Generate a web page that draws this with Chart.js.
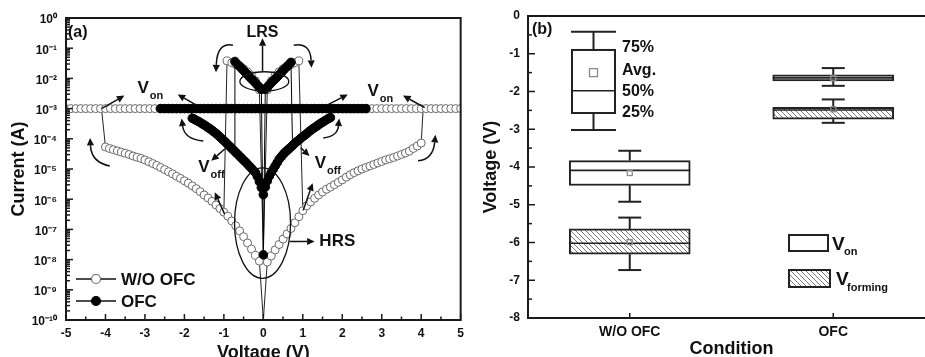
<!DOCTYPE html>
<html>
<head>
<meta charset="utf-8">
<script src="https://cdn.jsdelivr.net/npm/chart.js@4.4.0/dist/chart.umd.min.js"></script>
<style>
  html, body { margin: 0; padding: 0; background: #fff; overflow: hidden; }
  #wrap { position: relative; width: 925px; height: 357px; overflow: hidden; background: #fff; }
  #ivChart { position: absolute; left: 0; top: 0; }
  #boxChart { position: absolute; left: 470px; top: 0; }
</style>
</head>
<body>
<div id="wrap">
  <canvas id="ivChart" width="470" height="364"></canvas>
  <canvas id="boxChart" width="475" height="364"></canvas>
</div>
<script>
// ---------- (a) I-V sweeps: voltages in V, currents as log10(I / A) ----------
const complianceLogI = -3;

// without OFC: high-resistance branches
const woNegHrsV = [-4.0, -3.9, -3.8, -3.7, -3.6, -3.5, -3.4, -3.3, -3.2, -3.1, -3.0, -2.9, -2.8, -2.7, -2.6, -2.5, -2.4, -2.3, -2.2, -2.1, -2.0, -1.9, -1.8, -1.7, -1.6, -1.5, -1.4, -1.3, -1.2, -1.1, -1.0, -0.9, -0.8, -0.7, -0.6, -0.5, -0.4, -0.3, -0.2, -0.1];
const woNegHrsLogI = [-4.27, -4.32, -4.36, -4.40, -4.44, -4.48, -4.52, -4.57, -4.61, -4.65, -4.70, -4.76, -4.82, -4.88, -4.95, -5.02, -5.09, -5.16, -5.24, -5.31, -5.39, -5.47, -5.56, -5.65, -5.75, -5.86, -5.96, -6.07, -6.19, -6.31, -6.43, -6.56, -6.72, -6.88, -7.05, -7.24, -7.45, -7.65, -7.86, -8.05];
const woPosHrsV = [0.1, 0.2, 0.3, 0.4, 0.5, 0.6, 0.7, 0.8, 0.9, 1.0, 1.1, 1.2, 1.3, 1.4, 1.5, 1.6, 1.7, 1.8, 1.9, 2.0, 2.1, 2.2, 2.3, 2.4, 2.5, 2.6, 2.7, 2.8, 2.9, 3.0, 3.1, 3.2, 3.3, 3.4, 3.5, 3.6, 3.7, 3.8, 3.9, 4.0];
const woPosHrsLogI = [-8.08, -7.88, -7.68, -7.50, -7.32, -7.15, -6.97, -6.78, -6.58, -6.38, -6.22, -6.09, -5.97, -5.86, -5.76, -5.67, -5.60, -5.52, -5.44, -5.36, -5.27, -5.19, -5.12, -5.06, -5.00, -4.95, -4.90, -4.85, -4.80, -4.75, -4.70, -4.66, -4.62, -4.57, -4.52, -4.47, -4.41, -4.32, -4.24, -4.14];
// without OFC: low-resistance branches
const woNegLrsV = [-0.92, -0.8, -0.7, -0.6, -0.5, -0.4, -0.3, -0.2, -0.1];
const woNegLrsLogI = [-1.42, -1.48, -1.54, -1.60, -1.68, -1.78, -1.90, -2.08, -2.38];
const woPosLrsV = [0.1, 0.2, 0.3, 0.4, 0.5, 0.6, 0.7, 0.8, 0.9];
const woPosLrsLogI = [-2.38, -2.08, -1.90, -1.78, -1.68, -1.60, -1.54, -1.48, -1.42];
// without OFC: compliance-limited sweep
const woCompV = [-5, -4.875, -4.75, -4.625, -4.5, -4.375, -4.25, -4.125, -4, -3.875, -3.75, -3.625, -3.5, -3.375, -3.25, -3.125, -3, -2.875, -2.75, -2.625, -2.5, -2.375, -2.25, -2.125, -2, -1.875, -1.75, -1.625, -1.5, -1.375, -1.25, -1.125, -1, -0.875, -0.75, -0.625, -0.5, -0.375, -0.25, -0.125, 0, 0.125, 0.25, 0.375, 0.5, 0.625, 0.75, 0.875, 1, 1.125, 1.25, 1.375, 1.5, 1.625, 1.75, 1.875, 2, 2.125, 2.25, 2.375, 2.5, 2.625, 2.75, 2.875, 3, 3.125, 3.25, 3.375, 3.5, 3.625, 3.75, 3.875, 4, 4.125, 4.25, 4.375, 4.5, 4.625, 4.75, 4.875, 5];

// with OFC: high-resistance branches
const ofcNegHrsV = [-1.8, -1.75, -1.7, -1.65, -1.6, -1.55, -1.5, -1.45, -1.4, -1.35, -1.3, -1.25, -1.2, -1.15, -1.1, -1.05, -1.0, -0.95, -0.9, -0.85, -0.8, -0.75, -0.7, -0.65, -0.6, -0.55, -0.5, -0.45, -0.4, -0.35, -0.3, -0.25, -0.2, -0.15, -0.1, -0.05, 0];
const ofcNegHrsLogI = [-3.32, -3.35, -3.39, -3.42, -3.46, -3.50, -3.54, -3.58, -3.63, -3.67, -3.72, -3.77, -3.82, -3.88, -3.94, -4.00, -4.06, -4.12, -4.19, -4.25, -4.32, -4.38, -4.45, -4.51, -4.58, -4.64, -4.71, -4.77, -4.84, -4.91, -4.98, -5.05, -5.12, -5.25, -5.42, -5.62, -5.85];
const ofcPosHrsV = [0.05, 0.1, 0.15, 0.2, 0.25, 0.3, 0.35, 0.4, 0.45, 0.5, 0.55, 0.6, 0.65, 0.7, 0.75, 0.8, 0.85, 0.9, 0.95, 1.0, 1.05, 1.1, 1.15, 1.2, 1.25, 1.3, 1.35, 1.4, 1.45, 1.5, 1.55, 1.6, 1.65, 1.7];
const ofcPosHrsLogI = [-5.60, -5.40, -5.24, -5.12, -5.01, -4.90, -4.79, -4.68, -4.60, -4.52, -4.45, -4.39, -4.33, -4.27, -4.21, -4.15, -4.09, -4.04, -3.98, -3.93, -3.88, -3.83, -3.77, -3.72, -3.67, -3.63, -3.58, -3.54, -3.49, -3.45, -3.41, -3.37, -3.33, -3.30];
// with OFC: low-resistance branches (through the zero-bias point)
const ofcLrsV = [-0.72, -0.65, -0.6, -0.55, -0.5, -0.45, -0.4, -0.35, -0.3, -0.25, -0.2, -0.15, -0.1, -0.05, 0, 0.05, 0.1, 0.15, 0.2, 0.25, 0.3, 0.35, 0.4, 0.45, 0.5, 0.55, 0.6, 0.65, 0.7];
const ofcLrsLogI = [-1.44, -1.54, -1.60, -1.67, -1.74, -1.81, -1.88, -1.95, -2.02, -2.08, -2.15, -2.22, -2.29, -2.36, -7.84, -2.36, -2.29, -2.22, -2.15, -2.08, -2.02, -1.95, -1.88, -1.81, -1.74, -1.67, -1.61, -1.54, -1.47];
// with OFC: compliance-limited sweep
const ofcCompV = [-2.6, -2.5, -2.4, -2.3, -2.2, -2.1, -2.0, -1.9, -1.8, -1.7, -1.6, -1.5, -1.4, -1.3, -1.2, -1.1, -1.0, -0.9, -0.8, -0.7, -0.6, -0.5, -0.4, -0.3, -0.2, -0.1, 0, 0.1, 0.2, 0.3, 0.4, 0.5, 0.6, 0.7, 0.8, 0.9, 1.0, 1.1, 1.2, 1.3, 1.4, 1.5, 1.6, 1.7, 1.8, 1.9, 2.0, 2.1, 2.2, 2.3, 2.4, 2.5, 2.6];

// transition points (set jumps, reset drops, zero crossings) drawn as bare line joints
const woSetJoinV = [-4.1, 4.05];
const woResetEndV = [-1.0, 1.0];
const woResetEndLogI = [-6.43, -6.38];
const woHrsZeroLogI = -10;
const woLrsZeroLogI = -7.8;
const ofcSetJoinV = [-1.85, 1.75];
const ofcResetEndV = [-0.74, 0.74];
const ofcResetEndLogI = [-4.40, -4.27];

const currentTicks = [1e-10, 1e-9, 1e-8, 1e-7, 1e-6, 1e-5, 1e-4, 1e-3, 1e-2, 1e-1, 1];
const voltageRange = [-5, 5];

// ---------- (b) switching-voltage statistics ----------
const conditions = ['W/O OFC', 'OFC'];
const vonLow = [-4.92, -1.85];
const vonQ1 = [-4.49, -1.72];
const vonMedian = [-4.09, -1.64];
const vonQ3 = [-3.83, -1.56];
const vonHigh = [-3.57, -1.38];
const vonMean = [-4.16, -1.65];
const vformLow = [-6.73, -2.83];
const vformQ1 = [-6.31, -2.73];
const vformMedian = [-6.02, -2.49];
const vformQ3 = [-5.64, -2.42];
const vformHigh = [-5.34, -2.21];
const vformMean = [-5.99, -2.47];
// explanatory key box: low whisker, 25%, 50%, 75%, high whisker, and the average
const keyBox = [-3.02, -2.57, -1.98, -0.90, -0.42];
const keyMean = -1.5;
const voltageAxis = [-8, 0];

// ---------- shared styling ----------
const FONT = '"Liberation Sans", Arial, Helvetica, sans-serif';
const INK = '#111';
Chart.defaults.font.family = FONT;
Chart.defaults.font.weight = 'bold';
Chart.defaults.color = INK;

const SUP = { '-': '\u207B', '0': '\u2070', '1': '\u00B9', '2': '\u00B2', '3': '\u00B3', '4': '\u2074', '5': '\u2075', '6': '\u2076', '7': '\u2077', '8': '\u2078', '9': '\u2079' };
const decadeLabel = v => '10' + String(Math.round(Math.log10(v))).split('').map(c => SUP[c]).join('');

const pt = (v, e) => ({ x: v, y: Math.pow(10, e) });
// join sweep pieces; pieces flagged false are drawn as line joints only
function sweep(pieces) {
  const data = [], bare = [];
  pieces.forEach(([vs, es, marked]) => vs.forEach((v, k) => {
    if (!marked) bare.push(data.length);
    data.push(pt(v, es[k]));
  }));
  return { data, bare };
}
const constLog = (vs, e) => vs.map(() => e);

const woHrs = sweep([
  [[woSetJoinV[0]], [complianceLogI], false],
  [woNegHrsV, woNegHrsLogI, true],
  [[0], [woHrsZeroLogI], false],
  [woPosHrsV, woPosHrsLogI, true],
  [[woSetJoinV[1]], [complianceLogI], false]
]);
const woLrs = sweep([
  [[woResetEndV[0]], [woResetEndLogI[0]], false],
  [woNegLrsV, woNegLrsLogI, true],
  [[0], [woLrsZeroLogI], false],
  [woPosLrsV, woPosLrsLogI, true],
  [[woResetEndV[1]], [woResetEndLogI[1]], false]
]);
const woComp = sweep([[woCompV, constLog(woCompV, complianceLogI), true]]);
const ofcHrs = sweep([
  [[ofcSetJoinV[0]], [complianceLogI], false],
  [ofcNegHrsV, ofcNegHrsLogI, true],
  [ofcPosHrsV, ofcPosHrsLogI, true],
  [[ofcSetJoinV[1]], [complianceLogI], false]
]);
const ofcLrs = sweep([
  [[ofcResetEndV[0]], [ofcResetEndLogI[0]], false],
  [ofcLrsV, ofcLrsLogI, true],
  [[ofcResetEndV[1]], [ofcResetEndLogI[1]], false]
]);
const ofcComp = sweep([[ofcCompV, constLog(ofcCompV, complianceLogI), true]]);

const markerRadius = r => ctx => (ctx.dataset.bare || []).includes(ctx.dataIndex) ? 0 : r;
const woStyle = { showLine: true, borderColor: '#222', borderWidth: 1, pointRadius: markerRadius(4), pointBackgroundColor: '#fff', pointBorderColor: '#6a6a6a', pointBorderWidth: 1, order: 2 };
const ofcStyle = { showLine: true, borderColor: '#000', borderWidth: 1, pointRadius: markerRadius(4.3), pointBackgroundColor: '#000', pointBorderColor: '#000', pointBorderWidth: 1, order: 1 };

// annotation geometry in (voltage, log10 current) units
const ivEllipses = [
  { v: 0.025, e: -2.10, rv: 0.62, re: 0.32 },
  { v: -0.02, e: -6.79, rv: 0.71, re: 1.83 }
];
const ivArrows = [
  [[-0.02, -1.77], [-0.02, -0.67]],
  [[-0.77, -0.90], [-1.17, -0.80], [-1.20, -1.80]],
  [[0.77, -0.90], [1.19, -0.80], [1.22, -1.65]],
  [[-4.10, -3.00], [-3.52, -2.57]],
  [[-3.89, -4.90], [-4.36, -4.78], [-4.39, -3.97]],
  [[-1.72, -2.87], [-2.17, -2.53]],
  [[-1.52, -4.07], [-2.00, -4.02], [-2.07, -3.33]],
  [[-0.97, -4.33], [-1.32, -4.73]],
  [[-0.98, -6.50], [-1.23, -5.77]],
  [[0.95, -4.30], [1.17, -4.57]],
  [[1.01, -6.37], [1.25, -5.47]],
  [[1.64, -2.87], [2.14, -2.53]],
  [[1.52, -3.97], [1.88, -3.92], [1.92, -3.33]],
  [[4.09, -2.97], [3.54, -2.57]],
  [[3.92, -4.73], [4.30, -4.68], [4.36, -3.87]],
  [[0.67, -7.40], [1.30, -7.40]]
];
const ivSubLabels = [
  { main: 'V', sub: 'on', v: -3.19, e: -2.47 },
  { main: 'V', sub: 'on', v: 2.64, e: -2.57 },
  { main: 'V', sub: 'off', v: -1.65, e: -5.10 },
  { main: 'V', sub: 'off', v: 1.30, e: -4.97 }
];

function drawArrow(ctx, pts) {
  const s = pts[0], c = pts.length === 3 ? pts[1] : null, e = pts[pts.length - 1];
  const from = c || s;
  const ang = Math.atan2(e[1] - from[1], e[0] - from[0]);
  const L = 7.5, W = 3.6;
  const bx = e[0] - L * Math.cos(ang), by = e[1] - L * Math.sin(ang);
  ctx.beginPath();
  ctx.moveTo(s[0], s[1]);
  if (c) ctx.quadraticCurveTo(c[0], c[1], bx, by); else ctx.lineTo(bx, by);
  ctx.stroke();
  ctx.beginPath();
  ctx.moveTo(e[0], e[1]);
  ctx.lineTo(bx + W * Math.sin(ang), by - W * Math.cos(ang));
  ctx.lineTo(bx - W * Math.sin(ang), by + W * Math.cos(ang));
  ctx.closePath();
  ctx.fill();
}
function seg(ctx, x0, y0, x1, y1) { ctx.beginPath(); ctx.moveTo(x0, y0); ctx.lineTo(x1, y1); ctx.stroke(); }

const ivDecor = {
  id: 'ivDecor',
  afterDatasetsDraw(chart) {
    const { ctx, chartArea: a, scales: { x, y } } = chart;
    const X = v => x.getPixelForValue(v);
    const Y = e => y.getPixelForValue(Math.pow(10, e));
    ctx.save();
    ctx.strokeStyle = INK; ctx.fillStyle = INK;

    // state ellipses
    ctx.lineWidth = 1.3;
    ivEllipses.forEach(el => {
      ctx.beginPath();
      ctx.ellipse(X(el.v), Y(el.e), Math.abs(X(el.v + el.rv) - X(el.v)), Math.abs(Y(el.e - el.re) - Y(el.e)), 0, 0, Math.PI * 2);
      ctx.stroke();
    });
    // sweep-direction arrows
    ctx.lineWidth = 1.5;
    ivArrows.forEach(p => drawArrow(ctx, p.map(([v, e]) => [X(v), Y(e)])));

    // state labels
    ctx.textBaseline = 'middle';
    ctx.font = `bold 16px ${FONT}`; ctx.textAlign = 'center';
    ctx.fillText('LRS', X(-0.02), Y(-0.47));
    ctx.font = `bold 17px ${FONT}`; ctx.textAlign = 'left';
    ctx.fillText('HRS', X(1.42), Y(-7.40));
    ctx.textBaseline = 'alphabetic';
    ivSubLabels.forEach(l => {
      const lx = X(l.v), ly = Y(l.e);
      ctx.font = `bold 17px ${FONT}`;
      ctx.fillText(l.main, lx, ly);
      const w = ctx.measureText(l.main).width;
      ctx.font = `bold 11px ${FONT}`;
      ctx.fillText(l.sub, lx + w + 1, ly + 6);
    });
    ctx.font = `bold 16px ${FONT}`; ctx.textBaseline = 'middle';
    ctx.fillText('(a)', a.left + 2, a.top + 15);

    // frame and inward ticks
    ctx.lineWidth = 2; ctx.strokeStyle = '#1a1a1a';
    ctx.strokeRect(a.left, a.top, a.right - a.left, a.bottom - a.top);
    ctx.lineWidth = 1.5;
    currentTicks.forEach((t, k) => {
      const yy = y.getPixelForValue(t);
      seg(ctx, a.left, yy, a.left + 7, yy);
      if (k < currentTicks.length - 1) {
        for (let m = 2; m <= 9; m++) {
          const ym = y.getPixelForValue(t * m);
          seg(ctx, a.left, ym, a.left + 4, ym);
        }
      }
    });
    for (let v = voltageRange[0]; v <= voltageRange[1]; v += 0.5) {
      const xx = x.getPixelForValue(v);
      seg(ctx, xx, a.bottom, xx, a.bottom - (Number.isInteger(v) ? 6 : 3.5));
    }

    // legend
    const rows = [
      { label: 'W/O OFC', fill: '#fff', edge: '#6a6a6a', y: a.bottom - 41 },
      { label: 'OFC', fill: '#000', edge: '#000', y: a.bottom - 19 }
    ];
    rows.forEach(r => {
      ctx.strokeStyle = INK; ctx.lineWidth = 1.5;
      seg(ctx, a.left + 10, r.y, a.left + 50, r.y);
      ctx.beginPath(); ctx.arc(a.left + 30, r.y, 4.5, 0, Math.PI * 2);
      ctx.fillStyle = r.fill; ctx.fill();
      ctx.strokeStyle = r.edge; ctx.lineWidth = 1.2; ctx.stroke();
      ctx.fillStyle = INK; ctx.font = `bold 17px ${FONT}`; ctx.textAlign = 'left'; ctx.textBaseline = 'middle';
      ctx.fillText(r.label, a.left + 55, r.y + 1);
    });
    ctx.restore();
  }
};

new Chart(document.getElementById('ivChart'), {
  type: 'scatter',
  data: {
    datasets: [
      Object.assign({ label: 'W/O OFC compliance', data: woComp.data, bare: woComp.bare }, woStyle),
      Object.assign({ label: 'W/O OFC HRS', data: woHrs.data, bare: woHrs.bare }, woStyle),
      Object.assign({ label: 'W/O OFC LRS', data: woLrs.data, bare: woLrs.bare }, woStyle),
      Object.assign({ label: 'OFC compliance', data: ofcComp.data, bare: ofcComp.bare }, ofcStyle),
      Object.assign({ label: 'OFC HRS', data: ofcHrs.data, bare: ofcHrs.bare }, ofcStyle),
      Object.assign({ label: 'OFC LRS', data: ofcLrs.data, bare: ofcLrs.bare }, ofcStyle)
    ]
  },
  options: {
    responsive: false, animation: false, events: [],
    layout: { padding: { top: 18, right: 3, left: 0, bottom: 0 } },
    plugins: { legend: { display: false }, tooltip: { enabled: false } },
    scales: {
      x: {
        type: 'linear', min: voltageRange[0], max: voltageRange[1],
        grid: { display: false, drawTicks: false }, border: { display: false },
        ticks: { stepSize: 1, padding: 6, font: { size: 12, weight: 'bold' } },
        title: { display: true, text: 'Voltage (V)', font: { size: 18, weight: 'bold' }, padding: { top: 0, bottom: 0 } },
        afterFit: s => { s.height = 44; }
      },
      y: {
        type: 'logarithmic', min: currentTicks[0], max: currentTicks[currentTicks.length - 1],
        grid: { display: false, drawTicks: false }, border: { display: false },
        afterBuildTicks: s => { s.ticks = currentTicks.map(v => ({ value: v })); },
        ticks: { callback: v => decadeLabel(v), padding: 9, autoSkip: false, labelOffset: 2, font: { size: 12, weight: 'bold' } },
        title: { display: true, text: 'Current (A)', font: { size: 18, weight: 'bold' }, padding: { top: 8, bottom: 0 } },
        afterFit: s => { s.width = 66; }
      }
    }
  },
  plugins: [ivDecor]
});

// ---------- (b) box chart ----------
function hatchPattern() {
  const s = 5, c = document.createElement('canvas');
  c.width = s; c.height = s;
  const p = c.getContext('2d');
  p.fillStyle = '#fff'; p.fillRect(0, 0, s, s);
  p.strokeStyle = '#7a7a7a'; p.lineWidth = 1;
  p.beginPath();
  p.moveTo(0, 0); p.lineTo(s, s);
  p.moveTo(s - 1, -1); p.lineTo(s + 1, 1);
  p.moveTo(-1, s - 1); p.lineTo(1, s + 1);
  p.stroke();
  return p.createPattern(c, 'repeat');
}
const hatch = hatchPattern();
const BOX_EDGE = '#222';

function drawBoxExtras(ctx, cx, yLow, yHigh, yQ1, yQ3, yMed, yMean, halfBox, halfCap, meanSize) {
  ctx.strokeStyle = BOX_EDGE; ctx.lineWidth = 2;
  seg(ctx, cx, yQ3, cx, yHigh);
  seg(ctx, cx, yQ1, cx, yLow);
  seg(ctx, cx - halfCap, yHigh, cx + halfCap, yHigh);
  seg(ctx, cx - halfCap, yLow, cx + halfCap, yLow);
  ctx.lineWidth = 1.6;
  seg(ctx, cx - halfBox, yMed, cx + halfBox, yMed);
  ctx.strokeStyle = '#8a8a8a'; ctx.lineWidth = 1.3;
  ctx.strokeRect(cx - meanSize / 2, yMean - meanSize / 2, meanSize, meanSize);
}

const boxDecor = {
  id: 'boxDecor',
  afterDatasetsDraw(chart) {
    const { ctx, chartArea: a, scales: { x, y } } = chart;
    const Y = v => y.getPixelForValue(v);
    ctx.save();
    const halfBox = 60.5;
    conditions.forEach((c, i) => {
      const cx = x.getPixelForValue(i);
      drawBoxExtras(ctx, cx, Y(vonLow[i]), Y(vonHigh[i]), Y(vonQ1[i]), Y(vonQ3[i]), Y(vonMedian[i]), Y(vonMean[i]), halfBox, 11.5, 5);
      drawBoxExtras(ctx, cx, Y(vformLow[i]), Y(vformHigh[i]), Y(vformQ1[i]), Y(vformQ3[i]), Y(vformMedian[i]), Y(vformMean[i]), halfBox, 11.5, 5);
    });

    // key box explaining the statistics
    const kx = a.left + 65.5, kh = 22.5;
    ctx.fillStyle = '#fff'; ctx.strokeStyle = BOX_EDGE; ctx.lineWidth = 2;
    ctx.fillRect(kx - kh, Y(keyBox[3]), kh * 2, Y(keyBox[1]) - Y(keyBox[3]));
    ctx.strokeRect(kx - kh + 1, Y(keyBox[3]), kh * 2 - 2, Y(keyBox[1]) - Y(keyBox[3]));
    drawBoxExtras(ctx, kx, Y(keyBox[0]), Y(keyBox[4]), Y(keyBox[1]), Y(keyBox[3]), Y(keyBox[2]), Y(keyMean), kh, kh, 8);
    ctx.fillStyle = INK; ctx.font = `bold 16px ${FONT}`; ctx.textAlign = 'left'; ctx.textBaseline = 'middle';
    const kl = kx + 28.5;
    ctx.fillText('75%', kl, Y(keyBox[3]) - 2);
    ctx.fillText('Avg.', kl, Y(keyMean) - 2);
    ctx.fillText('50%', kl, Y(keyBox[2]) + 1);
    ctx.fillText('25%', kl, Y(keyBox[1]));

    ctx.font = `bold 16px ${FONT}`;
    ctx.fillText('(b)', a.left + 4, a.top + 14);

    // series legend
    const lx = a.left + 261;
    ctx.fillStyle = '#fff'; ctx.strokeStyle = BOX_EDGE; ctx.lineWidth = 2;
    ctx.fillRect(lx, a.bottom - 83, 39, 16); ctx.strokeRect(lx, a.bottom - 83, 39, 16);
    ctx.fillStyle = hatch;
    ctx.fillRect(lx, a.bottom - 48, 41, 17); ctx.strokeRect(lx, a.bottom - 48, 41, 17);
    ctx.fillStyle = INK; ctx.textBaseline = 'alphabetic';
    ctx.font = `bold 19px ${FONT}`;
    ctx.fillText('V', lx + 43, a.bottom - 68);
    ctx.fillText('V', lx + 47, a.bottom - 33);
    ctx.font = `bold 11px ${FONT}`;
    ctx.fillText('on', lx + 55, a.bottom - 63);
    ctx.fillText('forming', lx + 58, a.bottom - 27);

    // frame and inward ticks
    ctx.strokeStyle = '#1a1a1a'; ctx.lineWidth = 2;
    ctx.strokeRect(a.left, a.top, a.right - a.left, a.bottom - a.top);
    ctx.lineWidth = 1.5;
    for (let v = voltageAxis[0]; v <= voltageAxis[1]; v += 0.5) {
      const yy = Y(v);
      seg(ctx, a.left, yy, a.left + (Number.isInteger(v) ? 7 : 4), yy);
    }
    conditions.forEach((c, i) => {
      const xx = x.getPixelForValue(i);
      seg(ctx, xx, a.bottom, xx, a.bottom - 5);
    });
    ctx.restore();
  }
};

new Chart(document.getElementById('boxChart'), {
  type: 'bar',
  data: {
    labels: conditions,
    datasets: [
      { label: 'Von', data: conditions.map((c, i) => [vonQ1[i], vonQ3[i]]), backgroundColor: '#fff', borderColor: BOX_EDGE, borderWidth: 2, borderSkipped: false, barThickness: 121, grouped: false },
      { label: 'Vforming', data: conditions.map((c, i) => [vformQ1[i], vformQ3[i]]), backgroundColor: hatch, borderColor: BOX_EDGE, borderWidth: 2, borderSkipped: false, barThickness: 121, grouped: false }
    ]
  },
  options: {
    responsive: false, animation: false, events: [],
    layout: { padding: { top: 16, right: 10, left: 0, bottom: 0 } },
    plugins: { legend: { display: false }, tooltip: { enabled: false } },
    scales: {
      x: {
        grid: { display: false, drawTicks: false }, border: { display: false },
        ticks: { padding: 6, font: { size: 14, weight: 'bold' } },
        title: { display: true, text: 'Condition', font: { size: 18, weight: 'bold' }, padding: { top: 0, bottom: 4 } },
        afterFit: s => { s.height = 46; }
      },
      y: {
        min: voltageAxis[0], max: voltageAxis[1],
        grid: { display: false, drawTicks: false }, border: { display: false },
        ticks: { stepSize: 1, padding: 8, font: { size: 12, weight: 'bold' } },
        title: { display: true, text: 'Voltage (V)', font: { size: 18, weight: 'bold' }, padding: { top: 10, bottom: 0 } },
        afterFit: s => { s.width = 58; }
      }
    }
  },
  plugins: [boxDecor]
});
</script>
</body>
</html>
